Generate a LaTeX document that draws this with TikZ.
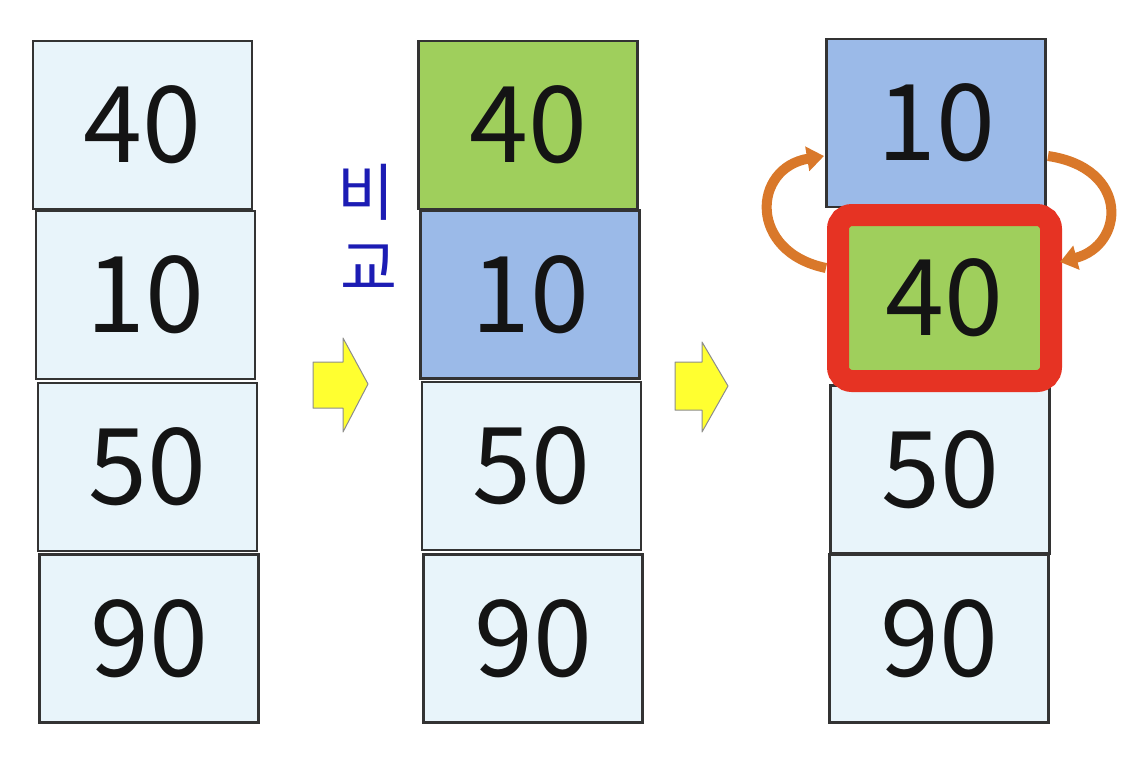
\documentclass[tikz,border=0pt]{standalone}
\usepackage{fontspec}
\setmainfont{Liberation Sans}
\newfontfamily\kr{Noto Sans CJK KR}
\usetikzlibrary{arrows.meta}
\definecolor{lightc}{HTML}{E8F4FA}
\definecolor{greenc}{HTML}{9FCF5C}
\definecolor{bluec}{HTML}{9BBAE8}
\definecolor{edgec}{HTML}{333333}
\definecolor{redc}{HTML}{E63323}
\definecolor{orangec}{HTML}{D9782A}
\definecolor{yellowc}{HTML}{FFFF30}
\definecolor{krblue}{HTML}{1C1CB4}
\begin{document}
\begin{tikzpicture}[x=1pt,y=-1pt,
  cell/.style={draw=edgec,line width=2.6pt,inner sep=0pt,text=black!92,
    font=\kr\fontsize{106}{106}\selectfont,minimum width=219,minimum height=168},
  swap/.style={draw=orangec,line width=10pt,-{Triangle[length=17pt,width=24pt]}},
  blockarrow/.style={fill=yellowc,draw=black!45,line width=1pt,line join=round},
  label/.style={text=krblue,font=\kr\fontsize{62}{62}\selectfont,inner sep=0pt}]
\useasboundingbox (0,0) rectangle (1144,764);
\fill[white] (0,0) rectangle (1144,764);
% column 1
\node[cell,fill=lightc] (a1) at (142.5,125) {40};
\node[cell,fill=lightc] (a2) at (145.5,295) {10};
\node[cell,fill=lightc] (a3) at (147.5,467) {50};
\node[cell,fill=lightc] (a4) at (149,638.5) {90};
% column 2
\node[cell,fill=greenc] (b1) at (528,125) {40};
\node[cell,fill=bluec] (b2) at (530,294.5) {10};
\node[cell,fill=lightc] (b3) at (531.5,466) {50};
\node[cell,fill=lightc] (b4) at (533,638.5) {90};
% column 3
\node[cell,fill=bluec] (c1) at (936,123) {10};
\node[cell,fill=lightc] (c3) at (940,469.5) {50};
\node[cell,fill=lightc] (c4) at (939,638.5) {90};
\node[cell,fill=greenc,draw=redc,line width=22pt,rounded corners=14pt,
  minimum width=213,minimum height=166] (c2) at (944.5,298) {40};
% Korean label
\node[label] (k1) at (366,192) {비};
\node[label] (k2) at (369,268) {교};
% yellow block arrows
\draw[blockarrow] (313,362) -- (343,362) -- (343,338) -- (368,384) -- (343,432) -- (343,408) -- (313,408) -- cycle;
\draw[blockarrow] (675,362) -- (702,362) -- (702,342) -- (728,386) -- (702,432) -- (702,410) -- (675,410) -- cycle;
% orange swap arrows
\coordinate (lstart) at (826,268);
\coordinate (lend) at (824,156);
\coordinate (rstart) at (1048,156);
\coordinate (rend) at (1060,262);
\draw[swap] (lstart) .. controls (748,252) and (752,168) .. (lend);
\draw[swap] (rstart) .. controls (1130,168) and (1125,245) .. (rend);
\end{tikzpicture}
\end{document}
